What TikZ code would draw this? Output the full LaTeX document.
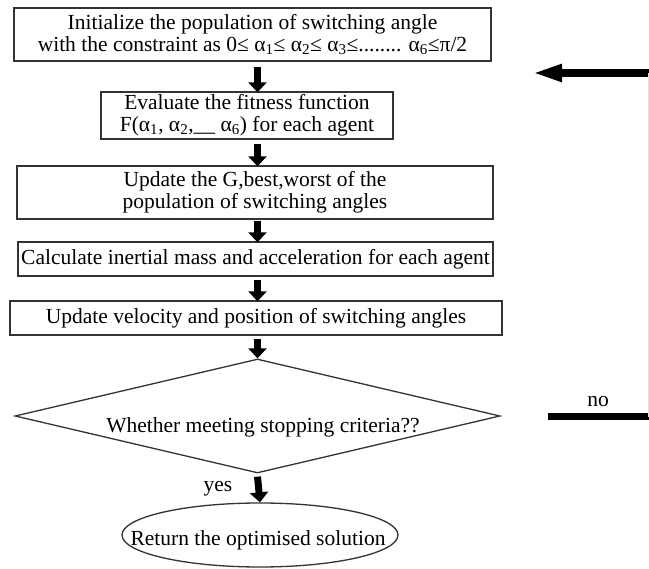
\documentclass[tikz,border=0pt]{standalone}
\usepackage{fontspec}
\setmainfont{Liberation Serif}
\usetikzlibrary{shapes.geometric,arrows.meta}
\begin{document}
\begin{tikzpicture}[x=1pt,y=-1pt,
  box/.style={draw=black!80,line width=1.3pt,inner sep=0pt,align=center,font=\fontsize{21.5}{22}\selectfont},
  blk/.style={line width=7pt,-{Triangle[width=18pt,length=10pt]}},
  fb/.style={line width=8pt,-{Triangle[width=16pt,length=30pt]}},
  thk/.style={line width=7pt},
  lbl/.style={font=\fontsize{21.5}{22}\selectfont,inner sep=0pt}]
\useasboundingbox (0,0) rectangle (649,569);
\node[box,minimum width=477pt,minimum height=53pt] (b1) at (252.5,34.5)
  {Initialize the population of switching angle\\
   with the constraint as 0≤ α\textsubscript{1}≤ α\textsubscript{2}≤ α\textsubscript{3}≤........ α\textsubscript{6}≤π/2};
\node[box,minimum width=292pt,minimum height=47pt] (b2) at (247,115.5)
  {Evaluate the fitness function\\
   F(α\textsubscript{1}, α\textsubscript{2},\_\_ α\textsubscript{6}) for each agent};
\node[box,minimum width=476pt,minimum height=53pt] (b3) at (255,192.5)
  {Update the G,best,worst of the\\ population of switching angles};
\node[box,minimum width=475pt,minimum height=34pt] (b4) at (255.5,259)
  {Calculate inertial mass and acceleration for each agent};
\node[box,minimum width=492pt,minimum height=34pt] (b5) at (256,318)
  {Update velocity and position of switching angles};
\node[diamond,draw=black!80,line width=1.3pt,inner sep=0pt,minimum width=485pt,minimum height=114pt] (d) at (257.5,416) {};
\node[lbl] (dt) at (263,427) {Whether meeting stopping criteria??};
\node[ellipse,draw=black!80,line width=1.3pt,inner sep=0pt,minimum width=276pt,minimum height=64pt] (e) at (260,535) {};
\node[lbl] (et) at (258,540) {Return the optimised solution};
\node[lbl] (yes) at (218,489) {yes};
\node[lbl] (no) at (598,402) {no};
\coordinate (fbs) at (649,73);
\coordinate (fbt) at (532,73);
\coordinate (nos) at (548,417);
\coordinate (noe) at (649,417);
\draw[blk] ([yshift=-5pt]b1.south -| d.north) -- ([yshift=-1pt]b2.north -| d.north);
\draw[blk] ([yshift=-4pt]b2.south -| d.north) -- ([yshift=-1pt]b3.north -| d.north);
\draw[blk] ([yshift=-1pt]b3.south -| d.north) -- ([yshift=-1pt]b4.north -| d.north);
\draw[blk] ([yshift=-3pt]b4.south -| d.north) -- ([yshift=-1pt]b5.north -| d.north);
\draw[blk] ([yshift=-3pt]b5.south -| d.north) -- (d.north);
\draw[blk] ([yshift=-3pt]d.south) -- (e.north);
\draw[fb] (fbs) -- (fbt);
\draw[thk] (nos) -- (noe);
\draw[black!12,line width=0.8pt] ([xshift=-1pt]fbs) -- ([xshift=-1pt]noe);
\end{tikzpicture}
\end{document}
